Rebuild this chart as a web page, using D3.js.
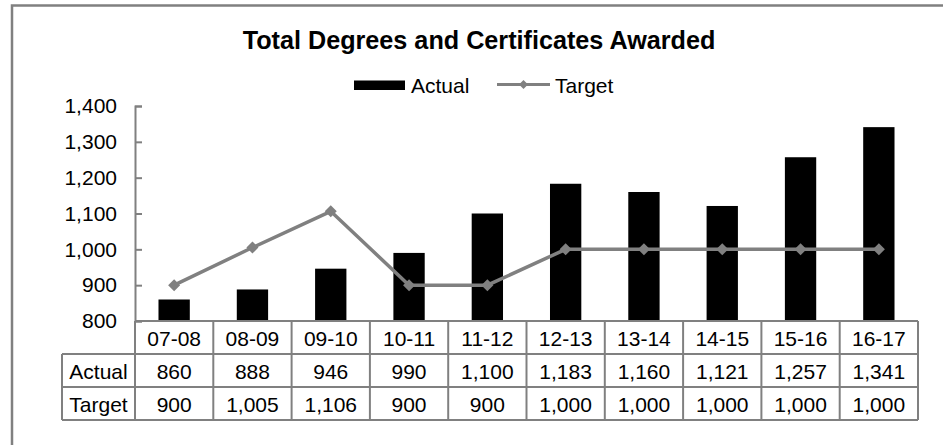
<!DOCTYPE html>
<html>
<head>
<meta charset="utf-8">
<script src="https://cdn.jsdelivr.net/npm/d3@7"></script>
<style>
  html, body { margin: 0; padding: 0; background: #fff; }
  svg { display: block; font-family: "Liberation Sans", Arial, sans-serif; }
</style>
</head>
<body>
<svg id="chart" width="943" height="445"></svg>
<script>
// Academic years and the two series drawn for each
const years = ["07-08", "08-09", "09-10", "10-11", "11-12", "12-13", "13-14", "14-15", "15-16", "16-17"];
const actual = [860, 888, 946, 990, 1100, 1183, 1160, 1121, 1257, 1341];
const target = [900, 1005, 1106, 900, 900, 1000, 1000, 1000, 1000, 1000];
const yTicks = [800, 900, 1000, 1100, 1200, 1300, 1400];
const rowNames = ["Actual", "Target"];
const title = "Total Degrees and Certificates Awarded";

const svg = d3.select("#chart");
const gray = "#808080";
const fontSize = 21;
const fmt = d3.format(",");

// Plot frame
const plot = { left: 135, right: 918, top: 106, bottom: 321 };
const rowH = 33;

// Square diamond marker path with a given half-diagonal
const diamondPath = r => `M0,${-r}L${r},0L0,${r}L${-r},0Z`;

// Chart border
svg.append("rect")
  .attr("x", 12).attr("y", 5.5)
  .attr("width", 960).attr("height", 460)
  .attr("fill", "none").attr("stroke", gray).attr("stroke-width", 2.5);

// Title
svg.append("text")
  .attr("x", 479).attr("y", 49)
  .attr("text-anchor", "middle")
  .attr("font-size", 25.2).attr("font-weight", "bold")
  .attr("fill", "#000")
  .text(title);

// Scales
const x = d3.scaleBand().domain(years)
  .range([plot.left, plot.right])
  .paddingInner(0.6).paddingOuter(0.3);
const step = x.step();
const y = d3.scaleLinear().domain([800, 1400]).range([plot.bottom, plot.top]);

// Y axis with inward ticks
const yAxis = svg.append("g")
  .attr("transform", `translate(${plot.left},0)`)
  .call(d3.axisLeft(y).tickValues(yTicks).tickFormat(fmt).tickSize(-7).tickPadding(18));
yAxis.select(".domain").attr("stroke", gray).attr("stroke-width", 2);
yAxis.selectAll(".tick line").attr("stroke", gray).attr("stroke-width", 2);
yAxis.selectAll(".tick text")
  .attr("font-size", fontSize)
  .attr("font-family", "Liberation Sans, Arial, sans-serif")
  .attr("fill", "#000");

// Bars
svg.append("g").selectAll("rect")
  .data(years)
  .join("rect")
  .attr("x", d => x(d))
  .attr("width", x.bandwidth())
  .attr("y", (d, i) => y(actual[i]))
  .attr("height", (d, i) => y(800) - y(actual[i]))
  .attr("fill", "#000");

// Target line
const cx = d => x(d) + x.bandwidth() / 2;
const line = d3.line().x((d, i) => cx(years[i])).y(d => y(d));
svg.append("path")
  .datum(target)
  .attr("d", line)
  .attr("fill", "none")
  .attr("stroke", gray)
  .attr("stroke-width", 3.5);

svg.append("g").selectAll("path")
  .data(target)
  .join("path")
  .attr("transform", (d, i) => `translate(${cx(years[i])},${y(d)})`)
  .attr("d", diamondPath(6))
  .attr("fill", gray);

// Data table below the plot
const tbl = svg.append("g");
const tLeft = 62;
const rows = [plot.bottom, plot.bottom + rowH, plot.bottom + 2 * rowH, plot.bottom + 3 * rowH];
const lineStyle = sel => sel.attr("stroke", gray).attr("stroke-width", 2).attr("fill", "none");

// x axis line / table top
tbl.append("line").attr("x1", plot.left).attr("x2", plot.right)
  .attr("y1", rows[0]).attr("y2", rows[0]).call(lineStyle);
// horizontal row lines
[rows[1], rows[2], rows[3]].forEach(yy => {
  tbl.append("line").attr("x1", tLeft).attr("x2", plot.right)
    .attr("y1", yy).attr("y2", yy).call(lineStyle);
});
// left edge of row header column
tbl.append("line").attr("x1", tLeft).attr("x2", tLeft)
  .attr("y1", rows[1]).attr("y2", rows[3]).call(lineStyle);
// column dividers
d3.range(years.length + 1).forEach(k => {
  const xx = plot.left + k * step;
  tbl.append("line").attr("x1", xx).attr("x2", xx)
    .attr("y1", rows[0]).attr("y2", rows[3]).call(lineStyle);
});

const cellText = (xx, yy, t) => tbl.append("text")
  .attr("x", xx).attr("y", yy)
  .attr("text-anchor", "middle")
  .attr("dominant-baseline", "central")
  .attr("font-size", fontSize)
  .attr("fill", "#000")
  .text(t);

years.forEach((yr, i) => {
  const mx = plot.left + (i + 0.5) * step;
  cellText(mx, (rows[0] + rows[1]) / 2 + 1, yr);
  cellText(mx, (rows[1] + rows[2]) / 2 + 1, fmt(actual[i]));
  cellText(mx, (rows[2] + rows[3]) / 2 + 1, fmt(target[i]));
});
rowNames.forEach((name, r) => {
  cellText((tLeft + plot.left) / 2, (rows[r + 1] + rows[r + 2]) / 2 + 1, name);
});

// Legend
const leg = svg.append("g");
leg.append("rect").attr("x", 354).attr("y", 80.5).attr("width", 51).attr("height", 9.5).attr("fill", "#000");
leg.append("text").attr("x", 411).attr("y", 85.5)
  .attr("dominant-baseline", "central").attr("font-size", fontSize).attr("fill", "#000").text(rowNames[0]);
leg.append("line").attr("x1", 497).attr("x2", 550).attr("y1", 84.5).attr("y2", 84.5)
  .attr("stroke", gray).attr("stroke-width", 3);
leg.append("path").attr("transform", "translate(523.5,84.5)")
  .attr("d", diamondPath(4.5)).attr("fill", gray);
leg.append("text").attr("x", 555).attr("y", 85.5)
  .attr("dominant-baseline", "central").attr("font-size", fontSize).attr("fill", "#000").text(rowNames[1]);
</script>
</body>
</html>
